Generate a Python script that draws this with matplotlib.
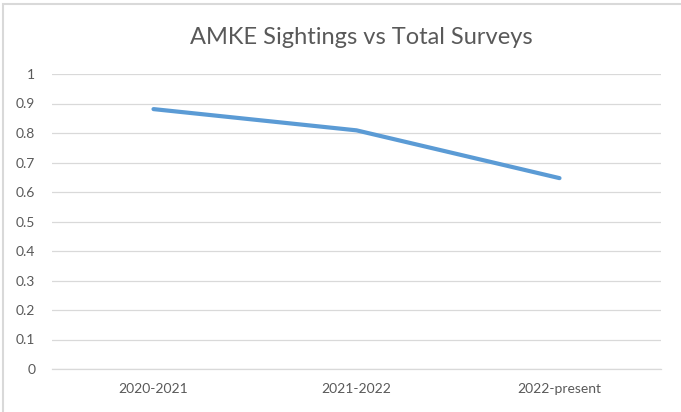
import matplotlib
matplotlib.use("Agg")
import matplotlib.pyplot as plt
from matplotlib.patches import Rectangle

categories = ["2020-2021", "2021-2022", "2022-present"]
ratios = [0.881, 0.809, 0.647]
y_ticks = [0, 0.1, 0.2, 0.3, 0.4, 0.5, 0.6, 0.7, 0.8, 0.9, 1]
y_labels = ["0", "0.1", "0.2", "0.3", "0.4", "0.5", "0.6", "0.7", "0.8", "0.9", "1"]

plt.rcParams['font.family'] = ['Lato', 'DejaVu Sans']

fig = plt.figure(figsize=(6.81, 4.12), dpi=100)
ax = fig.add_axes([52 / 681, 1 - 369 / 412, 609 / 681, 295 / 412])

# outer chart border (Excel style)
fig.patches.append(Rectangle((3 / 681, -0.1), 1.2, 1 - 4 / 412 + 0.1,
                             transform=fig.transFigure, fill=False,
                             edgecolor="#D9D9D9", linewidth=1.5))

x = list(range(len(categories)))
ax.plot(x, ratios, color="#5B9BD5", linewidth=3.0, solid_capstyle="round",
        solid_joinstyle="round", zorder=3)

ax.set_xlim(-0.5, len(categories) - 0.5)
ax.set_ylim(0, 1)
ax.set_yticks(y_ticks)
ax.set_yticklabels(y_labels)
ax.set_xticks(x)
ax.set_xticklabels(categories)
ax.grid(axis="y", color="#D9D9D9", linewidth=0.9)
ax.set_axisbelow(True)
for s in ["top", "right", "left"]:
    ax.spines[s].set_visible(False)
ax.spines["bottom"].set_color("#D9D9D9")
ax.spines["bottom"].set_linewidth(0.9)
ax.tick_params(axis="both", length=0, colors="#595959", labelsize=10)
ax.tick_params(axis="y", pad=12)
ax.tick_params(axis="x", pad=10)

fig.text(361 / 681, 1 - 37 / 412, "AMKE Sightings vs Total Surveys",
         ha="center", va="center", fontsize=17, color="#595959")

fig.savefig("out.png", dpi=100)
